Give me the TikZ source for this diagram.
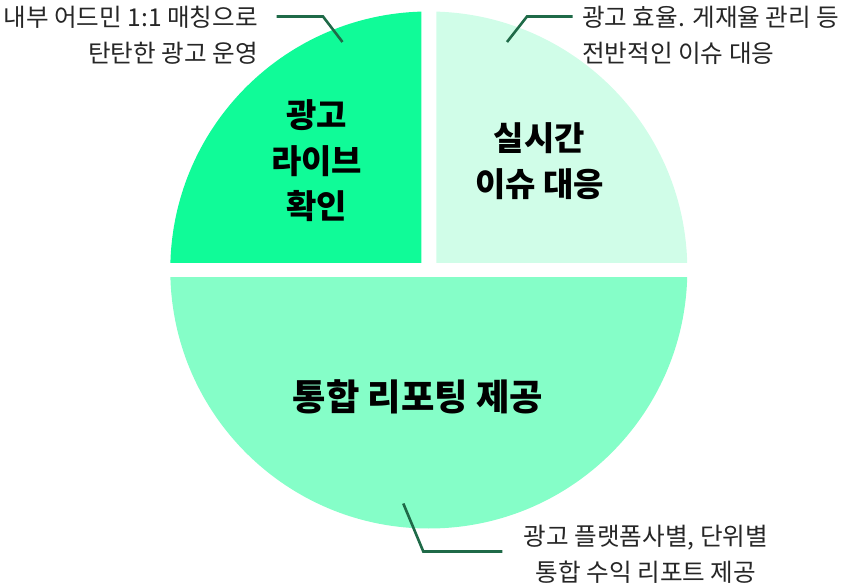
\documentclass[tikz,border=0pt]{standalone}
\usepackage{fontspec}
\setmainfont{Noto Sans CJK KR}
\definecolor{cA}{HTML}{10FB98}
\definecolor{cB}{HTML}{D0FDE8}
\definecolor{cC}{HTML}{85FEC8}
\definecolor{leadc}{HTML}{1F6A48}
\tikzset{
  lead/.style={draw=leadc, line width=2.6pt, line join=miter},
  note/.style={inner sep=0pt, font=\fontsize{24.6}{36}\selectfont, text=black!85},
  big/.style={inner sep=0pt, align=center, font=\bfseries\fontsize{33}{45.5}\selectfont, text=black},
}
\begin{document}
\begin{tikzpicture}[x=1pt,y=-1pt]
\useasboundingbox (0,0) rectangle (855,588);
\coordinate (C) at (428.8,270);
% pie pieces
\begin{scope}
  \clip (0,0) rectangle (421.3,262.5);
  \fill[cA] (C) circle (258.5pt);
\end{scope}
\begin{scope}
  \clip (436.3,0) rectangle (855,262.5);
  \fill[cB] (C) circle (258.5pt);
\end{scope}
\begin{scope}
  \clip (0,277.5) rectangle (855,588);
  \fill[cC] (C) circle (258.5pt);
\end{scope}
% main labels
\node[big] (lblA) at (316.7,161) {광고\\라이브\\확인};
\node[big] (lblB) at (539.5,161) {실시간\\이슈 대응};
\node[big, font=\bfseries\fontsize{36.3}{40}\selectfont] (lblC) at (418,397) {통합 리포팅 제공};
% notes
\node[note, anchor=east, align=right] (noteA) at (258,35.5) {내부 어드민 1:1 매칭으로\\탄탄한 광고 운영};
\node[note, anchor=west, align=left] (noteB) at (582,35.5) {광고 효율. 게재율 관리 등\\전반적인 이슈 대응};
\node[note, anchor=center, align=center] (noteC) at (646,554) {광고 플랫폼사별, 단위별\\통합 수익 리포트 제공};
% leader lines
\coordinate (a0) at (276.5,16.5);
\coordinate (a1) at (323,16.5);
\coordinate (a2) at (342.5,42);
\coordinate (b0) at (572.5,16.5);
\coordinate (b1) at (527,16.5);
\coordinate (b2) at (507,42);
\coordinate (c0) at (403.3,503.5);
\coordinate (c1) at (423.3,551.5);
\coordinate (c2) at (502.3,551.5);
\draw[lead] (a0) -- (a1) -- (a2);
\draw[lead] (b0) -- (b1) -- (b2);
\draw[lead] (c0) -- (c1) -- (c2);
\end{tikzpicture}
\end{document}
